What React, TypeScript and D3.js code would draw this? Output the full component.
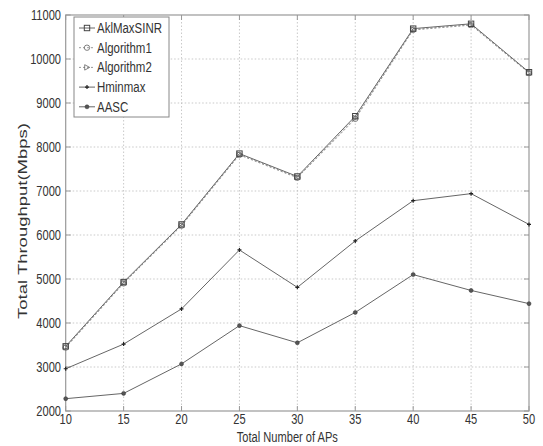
import React from "react";
import * as d3 from "d3";

const apCounts = [10, 15, 20, 25, 30, 35, 40, 45, 50];
const aklMaxSINR = [3470, 4930, 6240, 7850, 7330, 8700, 10690, 10800, 9700];
const algorithm1 = [3440, 4900, 6210, 7820, 7300, 8640, 10660, 10770, 9680];
const algorithm2 = [3450, 4910, 6220, 7830, 7310, 8660, 10670, 10780, 9690];
const hminmax = [2960, 3520, 4320, 5660, 4810, 5865, 6780, 6940, 6240];
const aasc = [2280, 2400, 3070, 3940, 3550, 4240, 5100, 4740, 4440];
const xTicks = [10, 15, 20, 25, 30, 35, 40, 45, 50];
const yTicks = [2000, 3000, 4000, 5000, 6000, 7000, 8000, 9000, 10000, 11000];
const seriesNames = ["AklMaxSINR", "Algorithm1", "Algorithm2", "Hminmax", "AASC"];

const W = 543, H = 446;
const L = 65.7, R = 529, T = 15, B = 411;
const FONT = "'Liberation Sans', Arial, sans-serif";
const TXT = "#333";
const SQ = 0.74;

type Kind = "square" | "circle" | "triangle" | "plus" | "dot";

function Marker({ x, y, kind }: { x: number; y: number; kind: Kind }) {
  const c = "#444";
  if (kind === "square")
    return <rect x={x - 2.7} y={y - 2.7} width={5.4} height={5.4} fill="none" stroke={c} strokeWidth={1} />;
  if (kind === "circle") return <circle cx={x} cy={y} r={2.7} fill="none" stroke="#666" strokeWidth={0.8} />;
  if (kind === "triangle")
    return <path d={`M${x - 2.3},${y - 2.7}L${x + 2.7},${y}L${x - 2.3},${y + 2.7}Z`} fill="none" stroke="#666" strokeWidth={0.8} />;
  if (kind === "plus")
    return <path d={`M${x - 2},${y}H${x + 2}M${x},${y - 2}V${y + 2}`} stroke="#222" strokeWidth={1.2} />;
  return <circle cx={x} cy={y} r={2} fill="#555" stroke="#333" strokeWidth={0.5} />;
}

function SText(props: { x: number; y: number; anchor?: string; size: number; rotate?: boolean; children: React.ReactNode }) {
  const { x, y, anchor = "start", size, rotate, children } = props;
  return (
    <g transform={`translate(${x},${y}) scale(${SQ},1)${rotate ? " rotate(-90)" : ""}`}>
      <text x={0} y={0} textAnchor={anchor} fontSize={size} fontFamily={FONT} fill={TXT}>
        {children}
      </text>
    </g>
  );
}

export default function App() {
  const x = d3.scaleLinear().domain([10, 50]).range([L, R]);
  const y = d3.scaleLinear().domain([2000, 11000]).range([B, T]);
  const line = d3
    .line<number>()
    .x((_, i) => x(apCounts[i]))
    .y((d) => y(d));

  const series: { name: string; data: number[]; kind: Kind; dash?: string; color: string }[] = [
    { name: seriesNames[1], data: algorithm1, kind: "circle", dash: "2,2", color: "#999" },
    { name: seriesNames[2], data: algorithm2, kind: "triangle", dash: "2,2", color: "#999" },
    { name: seriesNames[0], data: aklMaxSINR, kind: "square", color: "#666" },
    { name: seriesNames[3], data: hminmax, kind: "plus", color: "#666" },
    { name: seriesNames[4], data: aasc, kind: "dot", color: "#666" },
  ];
  const legendOrder = [2, 0, 1, 3, 4];

  return (
    <div style={{ position: "absolute", left: 0, top: 0, width: W, height: H, background: "#fff" }}>
      <svg width={W} height={H} style={{ display: "block" }}>
        <rect x={0} y={0} width={W} height={H} fill="#fff" />
        {xTicks.slice(1, -1).map((t) => (
          <line key={"gx" + t} x1={x(t)} x2={x(t)} y1={T} y2={B} stroke="#bbb" strokeWidth={0.8} strokeDasharray="1.5,2" />
        ))}
        {yTicks.slice(1, -1).map((t) => (
          <line key={"gy" + t} x1={L} x2={R} y1={y(t)} y2={y(t)} stroke="#bbb" strokeWidth={0.8} strokeDasharray="1.5,2" />
        ))}
        {xTicks.map((t) => (
          <g key={"tx" + t} stroke="#999" strokeWidth={1}>
            <line x1={x(t)} x2={x(t)} y1={B} y2={B - 5} />
            <line x1={x(t)} x2={x(t)} y1={T} y2={T + 5} />
          </g>
        ))}
        {yTicks.map((t) => (
          <g key={"ty" + t} stroke="#999" strokeWidth={1}>
            <line x1={L} x2={L + 5} y1={y(t)} y2={y(t)} />
            <line x1={R} x2={R - 5} y1={y(t)} y2={y(t)} />
          </g>
        ))}
        <rect x={L} y={T} width={R - L} height={B - T} fill="none" stroke="#999" strokeWidth={1.2} />
        {series.map((s) => (
          <g key={s.name}>
            <path d={line(s.data) || ""} fill="none" stroke={s.color} strokeWidth={1} strokeDasharray={s.dash} />
            {s.data.map((v, i) => (
              <Marker key={i} x={x(apCounts[i])} y={y(v)} kind={s.kind} />
            ))}
          </g>
        ))}
        {xTicks.map((t) => (
          <SText key={"lx" + t} x={x(t)} y={424} anchor="middle" size={15}>
            {t}
          </SText>
        ))}
        {yTicks.map((t) => (
          <SText key={"ly" + t} x={61} y={y(t) + 5} anchor="end" size={15}>
            {t}
          </SText>
        ))}
        <SText x={(L + R) / 2 - 10} y={442} anchor="middle" size={15}>
          Total Number of APs
        </SText>
        <SText x={27} y={(T + B) / 2 + 8} anchor="middle" size={18.5} rotate>
          Total Throughput(Mbps)
        </SText>
        <rect x={74} y={17} width={95} height={100} fill="#fff" stroke="#888" strokeWidth={1} />
        {legendOrder.map((si, k) => {
          const s = series[si];
          const ly = 28 + k * 19.7;
          return (
            <g key={"lg" + s.name}>
              <line x1={79} x2={95} y1={ly} y2={ly} stroke={s.color} strokeWidth={1} strokeDasharray={s.dash} />
              <Marker x={87} y={ly} kind={s.kind} />
              <SText x={97} y={ly + 5} size={15.5}>
                {s.name}
              </SText>
            </g>
          );
        })}
      </svg>
    </div>
  );
}
